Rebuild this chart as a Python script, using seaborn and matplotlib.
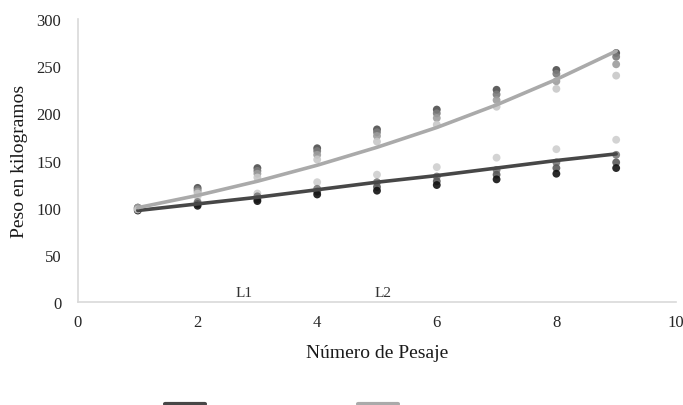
import pandas as pd
import matplotlib
matplotlib.use("Agg")
import matplotlib.pyplot as plt
from matplotlib.lines import Line2D
import seaborn as sns

# Weighing number
pesaje = [1, 2, 3, 4, 5, 6, 7, 8, 9]

# Lote 1 animals (kg)
l1_a = [100, 112, 115, 127, 135, 143, 153, 162, 172]
l1_b = [99, 106, 112, 120, 127, 133, 140, 148, 156]
l1_c = [98, 104, 109, 117, 122, 128, 135, 142, 148]
l1_d = [97, 102, 107, 114, 118, 124, 130, 136, 142]

# Lote 2 animals (kg)
l2_a = [100, 121, 142, 163, 183, 204, 225, 246, 264]
l2_b = [99, 119, 139, 160, 180, 200, 220, 242, 260]
l2_c = [100, 117, 136, 156, 176, 195, 214, 234, 252]
l2_d = [98, 115, 132, 151, 170, 188, 207, 226, 240]

# Trend lines (kg)
l1_trend = [97, 104, 111, 119, 127, 134, 142, 150, 157]
l2_trend = [100, 113, 128, 145, 164, 185, 209, 236, 266]

l1_shades = ["#cfcfcf", "#7a7a7a", "#5a5a5a", "#111111"]
l2_shades = ["#4e4e4e", "#7a7a7a", "#9c9c9c", "#c8c8c8"]

rows = []
pal = {}
for lote, series, shades in [("L1", [l1_a, l1_b, l1_c, l1_d], l1_shades),
                             ("L2", [l2_a, l2_b, l2_c, l2_d], l2_shades)]:
    for k, vals in enumerate(series):
        name = f"{lote}_{k}"
        pal[name] = shades[k]
        for x, y in zip(pesaje, vals):
            rows.append({"lote": lote, "animal": name, "pesaje": x, "peso": y})
df = pd.DataFrame(rows)

trend = pd.DataFrame({"pesaje": pesaje * 2,
                      "peso": l1_trend + l2_trend,
                      "lote": ["L1"] * len(pesaje) + ["L2"] * len(pesaje)})

sns.set_style("white")
plt.rcParams["font.family"] = ["Liberation Serif", "DejaVu Serif"]

fig = plt.figure(figsize=(6.83, 4.06), dpi=100)
ax = fig.add_axes([0.1142, 0.2537, 0.8755, 0.697])

sns.scatterplot(data=df, x="pesaje", y="peso", hue="animal", palette=pal,
                s=32, edgecolor="none", alpha=0.9, legend=False, ax=ax)

line_colors = {"L1": "#474747", "L2": "#aaaaaa"}
sns.lineplot(data=trend, x="pesaje", y="peso", hue="lote", palette=line_colors,
             lw=2.6, legend=False, ax=ax)

ax.set_xlim(0, 10)
ax.set_ylim(0, 300)
ax.set_xticks([0, 2, 4, 6, 8, 10])
ax.set_yticks([0, 50, 100, 150, 200, 250, 300])
ax.tick_params(axis="x", length=0, labelsize=12, colors="#262626", pad=9)
ax.tick_params(axis="y", length=0, labelsize=12, colors="#262626", pad=12)
ax.set_xlabel("Número de Pesaje", fontsize=14, color="#1a1a1a", labelpad=10)
ax.set_ylabel("Peso en kilogramos", fontsize=14, color="#1a1a1a", labelpad=6)

for side in ["top", "right"]:
    ax.spines[side].set_visible(False)
for side in ["left", "bottom"]:
    ax.spines[side].set_color("#d9d9d9")
    ax.spines[side].set_linewidth(1.2)

ax.text(2.77, 10, "L1", fontsize=11, color="#333333", ha="center", va="center")
ax.text(5.1, 10, "L2", fontsize=11, color="#333333", ha="center", va="center")

handles = [Line2D([0], [0], color="#474747", lw=3),
           Line2D([0], [0], color="#aaaaaa", lw=3)]
fig.legend(handles, ["", ""], loc="center", bbox_to_anchor=(0.412, -0.002),
           ncol=2, frameon=False, handlelength=2.9, handletextpad=0.0,
           columnspacing=11)

fig.savefig("out.png", dpi=100)
